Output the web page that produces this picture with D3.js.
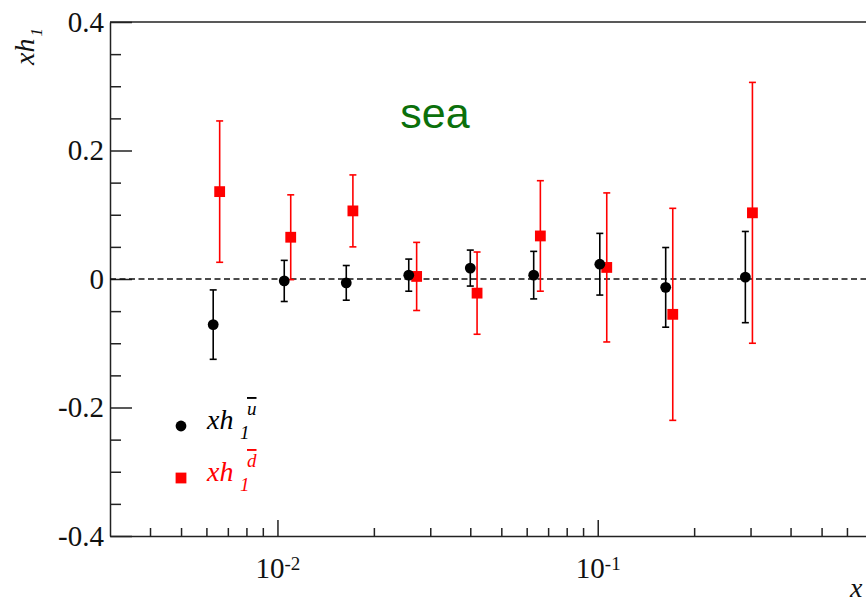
<!DOCTYPE html>
<html>
<head>
<meta charset="utf-8">
<script src="https://cdn.jsdelivr.net/npm/d3@7"></script>
<style>
  body { margin: 0; background: #fff; }
  svg { display: block; overflow: hidden; }
  .axis path, .axis line { stroke: #222; stroke-width: 1.5px; }
  .axis text { font-family: "Liberation Serif", "Tinos", "DejaVu Serif", serif; fill: #111; }
</style>
</head>
<body>
<svg width="866" height="602"></svg>
<script>
// x positions and values
var xUbar   = [0.0063, 0.0105, 0.0164, 0.0257, 0.0400, 0.0631, 0.1015, 0.163, 0.289];
var valUbar = [-0.071, -0.003, -0.006, 0.006, 0.017, 0.006, 0.023, -0.013, 0.003];
var errUbar = [0.054, 0.032, 0.027, 0.025, 0.028, 0.037, 0.048, 0.062, 0.071];

var xDbar   = [0.0066, 0.0110, 0.0172, 0.0272, 0.0420, 0.0662, 0.1067, 0.1715, 0.3041];
var valDbar = [0.136, 0.065, 0.106, 0.004, -0.022, 0.067, 0.018, -0.055, 0.103];
var errDbar = [0.110, 0.066, 0.056, 0.053, 0.064, 0.086, 0.116, 0.165, 0.203];

var yMajor = [-0.4, -0.2, 0, 0.2, 0.4];
var yMinor = [-0.35, -0.3, -0.25, -0.15, -0.1, -0.05, 0.05, 0.1, 0.15, 0.25, 0.3, 0.35];
var xMajor = [0.01, 0.1];
var xMinor = [0.004, 0.005, 0.006, 0.007, 0.008, 0.009,
              0.02, 0.03, 0.04, 0.05, 0.06, 0.07, 0.08, 0.09,
              0.2, 0.3, 0.4, 0.5, 0.6, 0.7, 0.8, 0.9];
var xExp = {0.01: "-2", 0.1: "-1"};

var serif = "'Liberation Serif', Tinos, 'DejaVu Serif', serif";

var svg = d3.select("svg"),
    margin = {top: 22, left: 110},
    height = 514,
    width = 808,   // frame runs past the right edge of the picture
    g = svg.append("g").attr("transform", "translate(" + margin.left + "," + margin.top + ")");

var x = d3.scaleLog().domain([0.003, 1]).range([0, width]);
var y = d3.scaleLinear().domain([-0.4, 0.4]).range([height, 0]);

// frame top
g.append("line")
 .attr("x1", 0).attr("x2", width)
 .attr("y1", 0).attr("y2", 0)
 .attr("stroke", "#222").attr("stroke-width", 1.5);

// y axis, ticks pointing inward
g.append("g")
 .attr("class", "axis")
 .attr("font-family", serif)
 .call(d3.axisLeft(y).tickValues(yMajor).tickSizeInner(-22).tickSizeOuter(0).tickPadding(6)
        .tickFormat(function(d) { return d === 0 ? "0" : d.toFixed(1); }))
 .selectAll("text").style("font-size", "29px");

g.append("g")
 .attr("class", "axis")
 .call(d3.axisLeft(y).tickValues(yMinor).tickSizeInner(-11).tickSizeOuter(0).tickFormat(""))
 .select(".domain").remove();

// x axis
var xa = g.append("g")
 .attr("class", "axis")
 .attr("font-family", serif)
 .attr("transform", "translate(0," + height + ")")
 .call(d3.axisBottom(x).tickValues(xMajor).tickSizeInner(-16).tickSizeOuter(0).tickPadding(21));

xa.selectAll("text")
  .style("font-size", "29px")
  .text("10")
  .each(function(d) {
    d3.select(this).append("tspan")
      .attr("dy", "-0.42em")
      .style("font-size", "19px")
      .text(xExp[d]);
  });

g.append("g")
 .attr("class", "axis")
 .attr("transform", "translate(0," + height + ")")
 .call(d3.axisBottom(x).tickValues(xMinor).tickSizeInner(-8).tickSizeOuter(0).tickFormat(""))
 .select(".domain").remove();

// dashed zero line
g.append("line")
 .attr("x1", 0).attr("x2", width)
 .attr("y1", y(0)).attr("y2", y(0))
 .attr("stroke", "#111").attr("stroke-width", 1.3)
 .attr("stroke-dasharray", "6,3.5");

function series(xs, vals, errs, color, shape) {
  var data = xs.map(function(d, i) { return {x: d, v: vals[i], e: errs[i]}; });
  var s = g.append("g");
  var eb = s.selectAll(".eb").data(data).enter().append("g");
  eb.append("line")
    .attr("x1", function(d) { return x(d.x); }).attr("x2", function(d) { return x(d.x); })
    .attr("y1", function(d) { return y(d.v + d.e); }).attr("y2", function(d) { return y(d.v - d.e); })
    .attr("stroke", color).attr("stroke-width", 1.6);
  [1, -1].forEach(function(k) {
    eb.append("line")
      .attr("x1", function(d) { return x(d.x) - 3.5; }).attr("x2", function(d) { return x(d.x) + 3.5; })
      .attr("y1", function(d) { return y(d.v + k * d.e); }).attr("y2", function(d) { return y(d.v + k * d.e); })
      .attr("stroke", color).attr("stroke-width", 1.6);
  });
  if (shape === "circle") {
    s.selectAll("circle").data(data).enter().append("circle")
     .attr("cx", function(d) { return x(d.x); })
     .attr("cy", function(d) { return y(d.v); })
     .attr("r", 5.4)
     .attr("fill", color);
  } else {
    s.selectAll("rect").data(data).enter().append("rect")
     .attr("x", function(d) { return x(d.x) - 5.4; })
     .attr("y", function(d) { return y(d.v) - 5.4; })
     .attr("width", 10.8).attr("height", 10.8)
     .attr("fill", color);
  }
}

series(xDbar, valDbar, errDbar, "#ff0000", "square");
series(xUbar, valUbar, errUbar, "#000000", "circle");

// "sea" label
svg.append("text")
   .attr("x", 435).attr("y", 128)
   .attr("text-anchor", "middle")
   .style("font-family", "'Liberation Sans', Arial, sans-serif")
   .style("font-size", "43px")
   .attr("fill", "#0b700b")
   .text("sea");

// legend
function legendLabel(lx, ly, sup, color) {
  var t = svg.append("g").attr("fill", color)
             .style("font-family", serif).style("font-style", "italic");
  t.append("text").attr("x", lx).attr("y", ly).style("font-size", "28px").text("xh");
  t.append("text").attr("x", lx + 33).attr("y", ly + 10).style("font-size", "19px").text("1");
  t.append("text").attr("x", lx + 40).attr("y", ly - 14).style("font-size", "19px")
   .style("text-decoration", "overline").text(sup);
}
svg.append("circle").attr("cx", 181).attr("cy", 426).attr("r", 5.4).attr("fill", "#000");
legendLabel(207, 429, "u", "#000");
svg.append("rect").attr("x", 175.6).attr("y", 472.6).attr("width", 10.8).attr("height", 10.8).attr("fill", "#ff0000");
legendLabel(207, 481, "d", "#ff0000");

// axis titles
var yt = svg.append("text")
   .attr("transform", "translate(34,65) rotate(-90)")
   .style("font-family", serif).style("font-style", "italic")
   .style("font-size", "28px").attr("fill", "#111");
yt.append("tspan").text("xh");
yt.append("tspan").attr("dy", 8).attr("dx", 2).style("font-size", "17px").text("1");

svg.append("text")
   .attr("x", 850).attr("y", 597)
   .style("font-family", serif).style("font-style", "italic")
   .style("font-size", "28px").attr("fill", "#111")
   .text("x");
</script>
</body>
</html>
